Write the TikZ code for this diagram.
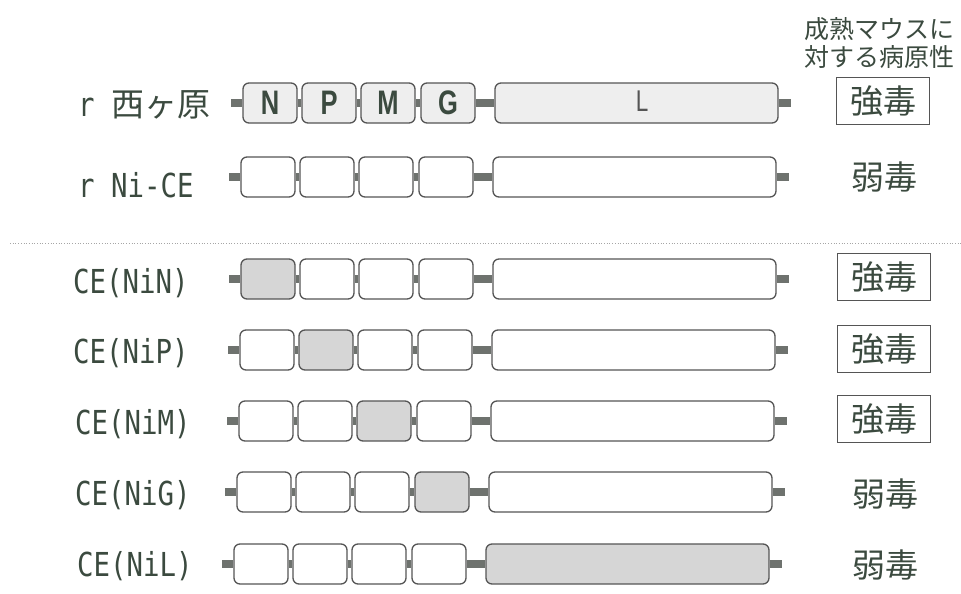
\documentclass[tikz,border=0pt]{standalone}
\usepackage{fontspec}
\setmainfont{Liberation Sans}
\newfontfamily\jp{Noto Sans CJK JP}
\newfontfamily\lab[FakeStretch=0.83]{DejaVu Sans Mono}
\newfontfamily\segf[FakeStretch=0.75]{Liberation Sans}
\usetikzlibrary{backgrounds}
\definecolor{ink}{HTML}{3B4A3F}
\definecolor{boxline}{HTML}{555555}
\definecolor{tabgray}{HTML}{6E726E}
\definecolor{hlgray}{HTML}{D6D6D6}
\definecolor{lightgray}{HTML}{EEEEEE}
\tikzset{
  seg/.style={draw=boxline, line width=1.3pt, rounded corners=6pt, minimum width=54pt, minimum height=40pt, inner sep=0pt, fill=white},
  lseg/.style={seg, minimum width=283pt},
  hl/.style={fill=hlgray},
  pale/.style={fill=lightgray},
  plain/.style={},
  linkbar/.style={draw=tabgray, line width=8pt},
  rowlabel/.style={anchor=west, text=ink, inner sep=0pt, font=\lab\fontsize{33}{36}\selectfont},
  verdict/.style={text=ink, inner sep=0pt, font=\jp\fontsize{33}{36}\selectfont},
  strongbox/.style={verdict, draw=boxline, line width=0.8pt, minimum width=93pt, minimum height=47pt},
  seglabel/.style={text=ink, font=\segf\bfseries\fontsize{34}{36}\selectfont}
}
\newcommand\generow[8]{%
  \node[seg,#4] (#1a) at (268+#3,#2) {};
  \node[seg,#5] (#1b) at (327+#3,#2) {};
  \node[seg,#6] (#1c) at (386+#3,#2) {};
  \node[seg,#7] (#1d) at (446+#3,#2) {};
  \node[lseg,#8] (#1e) at (634.5+#3,#2) {};
  \coordinate (#1s) at (229+#3,#2);
  \coordinate (#1t) at (789+#3,#2);
  \begin{scope}[on background layer]
    \draw[linkbar] (#1s) -- (#1a.west);
    \draw[linkbar] (#1a.east) -- (#1b.west);
    \draw[linkbar] (#1b.east) -- (#1c.west);
    \draw[linkbar] (#1c.east) -- (#1d.west);
    \draw[linkbar] (#1d.east) -- (#1e.west);
    \draw[linkbar] (#1e.east) -- (#1t);
  \end{scope}
}
\begin{document}
\begin{tikzpicture}[x=1pt,y=-1pt]
\useasboundingbox (0,0) rectangle (961,594);

% header
\node[text=ink, align=center, inner sep=0pt, font=\jp\fontsize{25}{28}\selectfont] (head) at (879,43) {成熟マウスに\\対する病原性};

% rows
\generow{r1}{103}{2}{pale}{pale}{pale}{pale}{pale}
\node[seglabel] (lN) at (r1a) {N};
\node[seglabel] (lP) at (r1b) {P};
\node[seglabel] (lM) at (r1c) {M};
\node[seglabel] (lG) at (r1d) {G};
\node[text=boxline, font=\segf\fontsize{30}{32}\selectfont] (lL) at (642,101) {L};
\generow{r2}{177}{0}{plain}{plain}{plain}{plain}{plain}
\generow{r3}{279}{0}{hl}{plain}{plain}{plain}{plain}
\generow{r4}{350}{-1}{plain}{hl}{plain}{plain}{plain}
\generow{r5}{421}{-2}{plain}{plain}{hl}{plain}{plain}
\generow{r6}{492}{-4}{plain}{plain}{plain}{hl}{plain}
\generow{r7}{564}{-7}{plain}{plain}{plain}{plain}{hl}

% separator
\coordinate (sepL) at (10,243);
\coordinate (sepR) at (961,243);
\draw[dotted, line width=0.7pt, color=gray!70] (sepL) -- (sepR);

% row labels
\node[rowlabel] (t1) at (78,105) {r {\jp 西ヶ原}};
\node[rowlabel] (t2) at (78,185) {r Ni-CE};
\node[rowlabel] (t3) at (73,283) {CE(NiN)};
\node[rowlabel] (t4) at (73,353) {CE(NiP)};
\node[rowlabel] (t5) at (75,424) {CE(NiM)};
\node[rowlabel] (t6) at (75,495) {CE(NiG)};
\node[rowlabel] (t7) at (77,566) {CE(NiL)};

% verdicts
\node[strongbox] (v1) at (883,101) {強毒};
\node[verdict] (v2) at (884,177) {弱毒};
\node[strongbox] (v3) at (884,277) {強毒};
\node[strongbox] (v4) at (884,349) {強毒};
\node[strongbox] (v5) at (884,419) {強毒};
\node[verdict] (v6) at (885,494) {弱毒};
\node[verdict] (v7) at (885,565) {弱毒};
\end{tikzpicture}
\end{document}
